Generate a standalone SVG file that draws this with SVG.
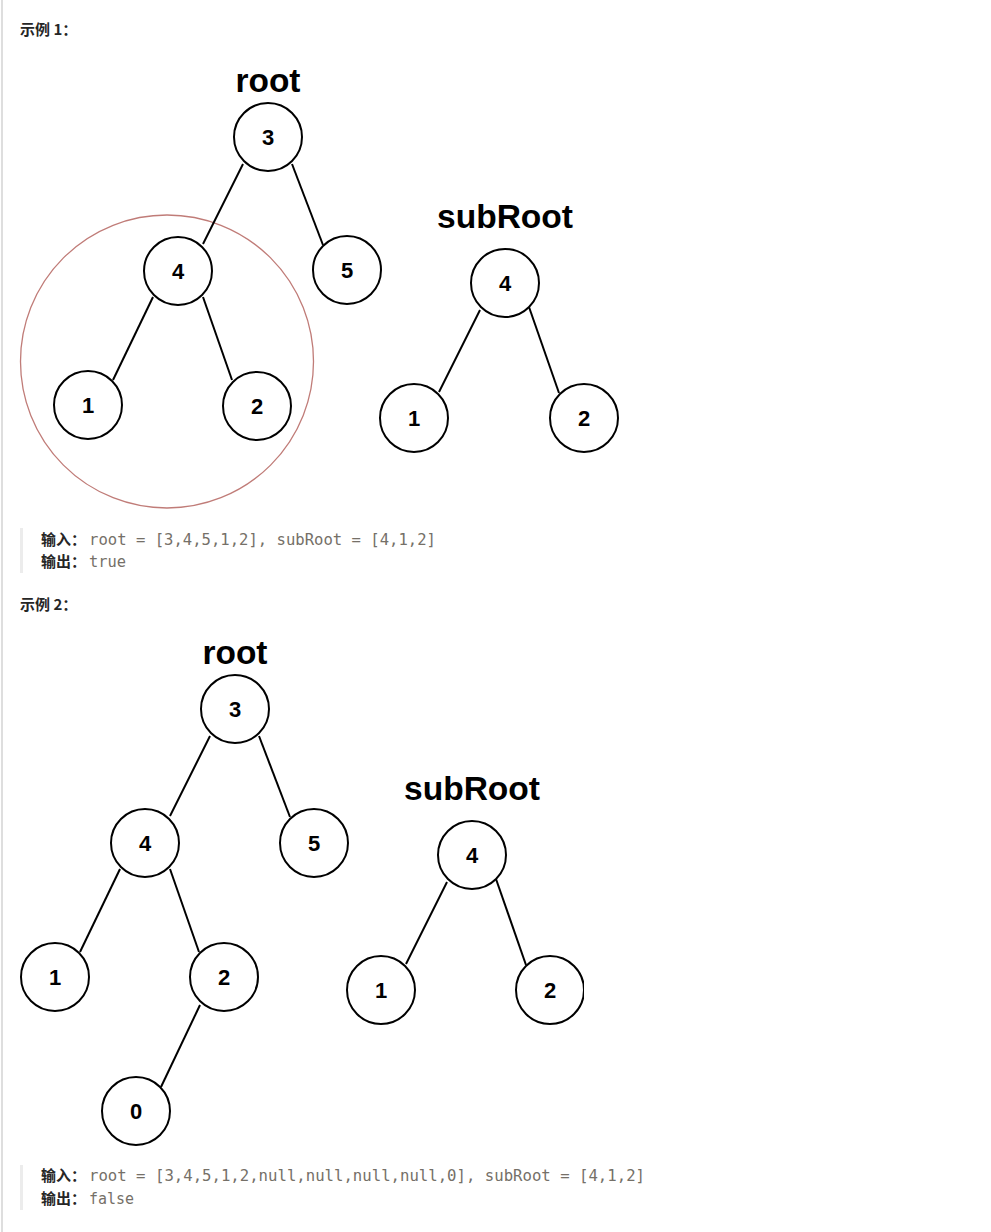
<svg xmlns="http://www.w3.org/2000/svg" width="991" height="1232" viewBox="0 0 991 1232">
<defs>
<style>
.node circle{fill:#fff;stroke:#000;stroke-width:2}
.node text{font-family:"Liberation Sans",Arial,sans-serif;font-weight:bold;font-size:22px;text-anchor:middle;fill:#000}
.edges line{stroke:#000;stroke-width:2}
.lbl{font-family:"Liberation Sans",Arial,sans-serif;font-weight:bold;font-size:33px;text-anchor:middle;fill:#000}
.hdr{font-family:"Noto Sans CJK SC","Liberation Sans",sans-serif;font-weight:bold;font-size:15px;fill:#262626}
.key{font-family:"Noto Sans CJK SC","Liberation Sans",sans-serif;font-weight:bold;font-size:15px;fill:#262626}
.code{font-family:"DejaVu Sans Mono","Liberation Mono",monospace;font-size:15px;fill:#757068}
</style>
<clipPath id="clip2"><rect x="0" y="0" width="584" height="1232"/></clipPath>
</defs>
<rect x="0" y="0" width="991" height="1232" fill="#fff"/>
<rect x="1" y="0" width="2" height="1232" fill="#dedede"/>

<!-- Example 1 -->
<text class="hdr" x="20" y="35">示例 1：</text>
<text class="lbl" x="268" y="92" textLength="65" lengthAdjust="spacingAndGlyphs">root</text>
<text class="lbl" x="505" y="228" textLength="136" lengthAdjust="spacingAndGlyphs">subRoot</text>
<circle cx="167" cy="361.5" r="146.5" fill="none" stroke="#c07c78" stroke-width="1.3"/>
<g class="edges" id="edges1">
<line x1="243" y1="164" x2="203" y2="244"/>
<line x1="292" y1="164" x2="323" y2="245"/>
<line x1="153" y1="297" x2="113" y2="380"/>
<line x1="203" y1="297" x2="232" y2="380"/>
<line x1="480" y1="310" x2="439" y2="392"/>
<line x1="529" y1="307" x2="559" y2="393"/>
</g>
<g class="node" id="e1-root3"><circle cx="268" cy="137" r="34"/><text x="268" y="145">3</text></g>
<g class="node" id="e1-root4"><circle cx="178" cy="271" r="34"/><text x="178" y="279">4</text></g>
<g class="node" id="e1-root5"><circle cx="347" cy="270" r="34"/><text x="347" y="278">5</text></g>
<g class="node" id="e1-root1"><circle cx="88" cy="405" r="34"/><text x="88" y="413">1</text></g>
<g class="node" id="e1-root2"><circle cx="257" cy="406" r="34"/><text x="257" y="414">2</text></g>
<g class="node" id="e1-sub4"><circle cx="505" cy="283" r="34"/><text x="505" y="291">4</text></g>
<g class="node" id="e1-sub1"><circle cx="414" cy="418" r="34"/><text x="414" y="426">1</text></g>
<g class="node" id="e1-sub2"><circle cx="584" cy="418" r="34"/><text x="584" y="426">2</text></g>

<rect x="20" y="528" width="3" height="45" fill="#ececec"/>
<text class="key" x="41" y="545">输入：</text>
<text class="code" x="89" y="545" textLength="347" lengthAdjust="spacingAndGlyphs">root = [3,4,5,1,2], subRoot = [4,1,2]</text>
<text class="key" x="41" y="567">输出：</text>
<text class="code" x="89" y="567" textLength="37" lengthAdjust="spacingAndGlyphs">true</text>

<!-- Example 2 -->
<text class="hdr" x="20" y="610">示例 2：</text>
<text class="lbl" x="235" y="664" textLength="65" lengthAdjust="spacingAndGlyphs">root</text>
<text class="lbl" x="472" y="800" textLength="136" lengthAdjust="spacingAndGlyphs">subRoot</text>
<g class="edges" id="edges2">
<line x1="210" y1="736" x2="170" y2="816"/>
<line x1="259" y1="736" x2="290" y2="817"/>
<line x1="120" y1="869" x2="80" y2="952"/>
<line x1="170" y1="869" x2="199" y2="952"/>
<line x1="200" y1="1005" x2="161" y2="1087"/>
<line x1="447" y1="882" x2="406" y2="964"/>
<line x1="496" y1="879" x2="526" y2="965"/>
</g>
<g class="node" id="e2-root3"><circle cx="235" cy="709" r="34"/><text x="235" y="717">3</text></g>
<g class="node" id="e2-root4"><circle cx="145" cy="843" r="34"/><text x="145" y="851">4</text></g>
<g class="node" id="e2-root5"><circle cx="314" cy="843" r="34"/><text x="314" y="851">5</text></g>
<g class="node" id="e2-root1"><circle cx="55" cy="977" r="34"/><text x="55" y="985">1</text></g>
<g class="node" id="e2-root2"><circle cx="224" cy="977" r="34"/><text x="224" y="985">2</text></g>
<g class="node" id="e2-root0"><circle cx="136" cy="1111" r="34"/><text x="136" y="1119">0</text></g>
<g class="node" id="e2-sub4"><circle cx="472" cy="855" r="34"/><text x="472" y="863">4</text></g>
<g class="node" id="e2-sub1"><circle cx="381" cy="990" r="34"/><text x="381" y="998">1</text></g>
<g class="node" id="e2-sub2" clip-path="url(#clip2)"><circle cx="550" cy="990" r="34"/><text x="550" y="998">2</text></g>

<rect x="20" y="1165" width="3" height="45" fill="#ececec"/>
<text class="key" x="41" y="1181">输入：</text>
<text class="code" x="89" y="1181" textLength="556" lengthAdjust="spacingAndGlyphs">root = [3,4,5,1,2,null,null,null,null,0], subRoot = [4,1,2]</text>
<text class="key" x="41" y="1204">输出：</text>
<text class="code" x="89" y="1204" textLength="45" lengthAdjust="spacingAndGlyphs">false</text>
</svg>
